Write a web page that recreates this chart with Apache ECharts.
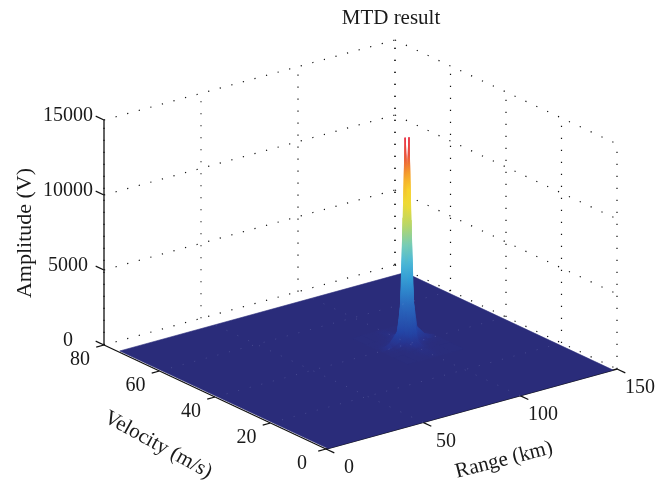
<!DOCTYPE html>
<html><head><meta charset="utf-8">
<style>html,body{margin:0;padding:0;background:#fff}#c{width:669px;height:487px}</style>
<script src="https://cdn.jsdelivr.net/npm/echarts@6/dist/echarts.min.js"></script>
</head><body><div id="c"></div>
<script>
// ---- chart values ----
const titleText = 'MTD result';
const rangeTicks = [0, 50, 100, 150];
const velocityTicks = [0, 20, 40, 60, 80];
const amplitudeTicks = [0, 5000, 10000, 15000];
// extent of the sampled surface
const surfaceRange = [1, 148];
const surfaceVelocity = [0, 75];
const floorAmplitude = 0;
// samples around the target
const peakRanges = [85, 90, 94, 96, 97, 98, 99, 100, 101, 102, 104, 108, 114];
const peakVelocities = [30, 35, 37, 38, 39, 40, 41, 42, 43, 45, 50];
const amp30 = [30, 30, 30, 30, 40, 50, 50, 50, 40, 30, 30, 30, 30];
const amp35 = [30, 30, 50, 80, 110, 170, 160, 170, 110, 80, 50, 30, 30];
const amp37 = [30, 50, 90, 200, 300, 500, 450, 500, 300, 200, 90, 50, 30];
const amp38 = [30, 70, 170, 380, 700, 1600, 1400, 1600, 700, 380, 170, 70, 30];
const amp39 = [50, 120, 380, 1100, 2400, 5000, 4500, 5000, 2400, 1100, 380, 120, 50];
const amp40 = [30, 350, 1000, 3000, 8500, 13800, 11500, 13750, 8200, 3000, 1000, 400, 30];
const amp41 = [45, 110, 360, 1050, 2300, 4800, 4400, 4900, 2300, 1050, 360, 110, 45];
const amp42 = [30, 65, 160, 360, 680, 1500, 1350, 1550, 680, 360, 160, 65, 30];
const amp43 = [30, 45, 85, 190, 290, 480, 430, 470, 290, 190, 85, 45, 30];
const amp45 = [30, 30, 50, 75, 105, 160, 150, 160, 105, 75, 50, 30, 30];
const amp50 = [30, 30, 30, 30, 40, 50, 45, 50, 40, 30, 30, 30, 30];
const peakAmplitudes = [amp30, amp35, amp37, amp38, amp39, amp40, amp41, amp42, amp43, amp45, amp50];

// ---- view (orthographic 3-D axes projected on the page) ----
const view = {origin: [326, 449], perKm: [291 / 150, -80 / 150], perMs: [-222 / 80, -104 / 80], perVolt: -225 / 15000};
const project = (r, v, z) => [
  view.origin[0] + r * view.perKm[0] + v * view.perMs[0],
  view.origin[1] + r * view.perKm[1] + v * view.perMs[1] + z * view.perVolt
];
const FONT = '"Liberation Serif", serif';
const rMax = 150, vMax = 80, zMax = 15000, colorMax = 13800;

// muted jet colour map as printed
const jetStops = [[0, [42, 44, 122]], [.02, [40, 50, 140]], [.07, [35, 68, 165]], [.2, [42, 105, 190]], [.33, [50, 160, 215]],
  [.45, [94, 200, 213]], [.55, [162, 212, 124]], [.65, [232, 220, 58]], [.74, [248, 214, 42]], [.83, [245, 156, 43]], [.92, [232, 72, 62]], [1, [232, 52, 70]]];
function jet(t) {
  t = Math.max(0, Math.min(1, t));
  for (let i = 1; i < jetStops.length; i++) {
    if (t <= jetStops[i][0]) {
      const a = jetStops[i - 1], b = jetStops[i], k = (t - a[0]) / (b[0] - a[0]);
      return 'rgb(' + a[1].map((c, n) => Math.round(c + (b[1][n] - c) * k)).join(',') + ')';
    }
  }
  return 'rgb(232,52,70)';
}

// ---- build records for the series ----
const wallGrid = [];
rangeTicks.forEach(r => { wallGrid.push([r, vMax, 0, r, vMax, zMax]); });
velocityTicks.forEach(v => { wallGrid.push([rMax, v, 0, rMax, v, zMax]); });
amplitudeTicks.forEach(z => { wallGrid.push([0, vMax, z, rMax, vMax, z]); wallGrid.push([rMax, vMax, z, rMax, 0, z]); });
const floorGrid = [];
rangeTicks.slice(1, -1).forEach(r => { floorGrid.push([r, 0, 0, r, vMax, 0]); });
velocityTicks.slice(1, -1).forEach(v => { floorGrid.push([0, v, 0, rMax, v, 0]); });
const axisLines = [[0, vMax, 0, 0, vMax, zMax], [0, 0, 0, 0, vMax, 0], [0, 0, 0, rMax, 0, 0]];
const tickMarks = [];
amplitudeTicks.forEach(z => tickMarks.push([0, vMax, z, 0, vMax + 3, z]));
velocityTicks.forEach(v => tickMarks.push([0, v, 0, -4, v, 0]));
rangeTicks.forEach(r => tickMarks.push([r, 0, 0, r, -3, 0]));

const cells = [];
cells.push([surfaceRange[0], surfaceVelocity[0], surfaceRange[1], surfaceVelocity[1], floorAmplitude, floorAmplitude, floorAmplitude, floorAmplitude]);
for (let j = peakVelocities.length - 2; j >= 0; j--) {
  for (let i = peakRanges.length - 2; i >= 0; i--) {
    cells.push([peakRanges[i], peakVelocities[j], peakRanges[i + 1], peakVelocities[j + 1],
      peakAmplitudes[j][i], peakAmplitudes[j][i + 1], peakAmplitudes[j + 1][i + 1], peakAmplitudes[j + 1][i]]);
  }
}

function segRender(style) {
  return function (params, api) {
    const a = api.coord(project(api.value(0), api.value(1), api.value(2)));
    const b = api.coord(project(api.value(3), api.value(4), api.value(5)));
    return {type: 'line', shape: {x1: a[0], y1: a[1], x2: b[0], y2: b[1]}, style: style, silent: true};
  };
}
function cellRender(params, api) {
  const r0 = api.value(0), v0 = api.value(1), r1 = api.value(2), v1 = api.value(3);
  const corners = [[r0, v0, api.value(4)], [r1, v0, api.value(5)], [r1, v1, api.value(6)], [r0, v1, api.value(7)]];
  const pts = corners.map(c => api.coord(project(c[0], c[1], c[2])));
  let lo = 0, hi = 0;
  corners.forEach((c, n) => { if (c[2] < corners[lo][2]) lo = n; if (c[2] > corners[hi][2]) hi = n; });
  const zLo = corners[lo][2], zHi = corners[hi][2];
  let paint;
  if (zHi - zLo < 1) {
    paint = jet(zLo / colorMax);
  } else {
    const stops = [];
    for (let k = 0; k <= 8; k++) stops.push({offset: k / 8, color: jet((zLo + (zHi - zLo) * k / 8) / colorMax)});
    paint = new echarts.graphic.LinearGradient(pts[lo][0], pts[lo][1], pts[hi][0], pts[hi][1], stops, true);
  }
  return {type: 'polygon', shape: {points: pts}, style: {fill: paint, stroke: paint, lineWidth: 0.6}, silent: true};
}
function tickLabelRender(toPoint, dx, dy) {
  return function (params, api) {
    const t = api.value(0), p = api.coord(toPoint(t));
    return {type: 'text', silent: true, style: {text: String(t), x: p[0] + dx, y: p[1] + dy, fill: '#1a1a1a', font: '20px ' + FONT, align: 'center', verticalAlign: 'middle'}};
  };
}
const seg = (name, data, style, z) => ({type: 'custom', name, data, z, clip: false, coordinateSystem: 'cartesian2d', renderItem: segRender(style), animation: false});
const labels = (name, ticks, fn, dx, dy) => ({type: 'custom', name, data: ticks.map(t => [t]), z: 9, clip: false, coordinateSystem: 'cartesian2d', renderItem: tickLabelRender(fn, dx, dy), animation: false});

const chart = echarts.init(document.getElementById('c'), null, {renderer: 'canvas'});
chart.setOption({
  animation: false,
  backgroundColor: '#fff',
  title: {text: titleText, left: 386, top: 3, textAlign: 'center', textStyle: {fontFamily: FONT, fontSize: 21, fontWeight: 'normal', color: '#1a1a1a'}},
  grid: {left: 0, top: 0, width: 669, height: 487},
  xAxis: {type: 'value', min: 0, max: 669, show: false},
  yAxis: {type: 'value', min: 0, max: 487, inverse: true, show: false},
  graphic: [
    {type: 'text', x: 25, y: 233, rotation: Math.PI / 2, silent: true, style: {text: 'Amplitude (V)', fill: '#1a1a1a', font: '22px ' + FONT, align: 'center', verticalAlign: 'middle'}},
    {type: 'text', x: 158, y: 445, rotation: -0.5, silent: true, style: {text: 'Velocity (m/s)', fill: '#1a1a1a', font: '21px ' + FONT, align: 'center', verticalAlign: 'middle'}},
    {type: 'text', x: 504, y: 460, rotation: 0.25, silent: true, style: {text: 'Range (km)', fill: '#1a1a1a', font: '21px ' + FONT, align: 'center', verticalAlign: 'middle'}}
  ],
  series: [
    seg('wall grid', wallGrid, {stroke: '#111', lineWidth: 1.2, lineDash: [1.2, 10.8]}, 1),
    seg('axes', axisLines, {stroke: '#111', lineWidth: 1.3}, 2),
    seg('ticks', tickMarks, {stroke: '#111', lineWidth: 1.2}, 2),
    {type: 'custom', name: 'surface', data: cells, z: 3, clip: false, coordinateSystem: 'cartesian2d', renderItem: cellRender, animation: false},
    seg('floor grid', floorGrid, {stroke: 'rgba(190,195,235,0.2)', lineWidth: 1, lineDash: [1, 11]}, 4),
    labels('amplitude ticks', amplitudeTicks, z => project(0, vMax, z), -36, -4),
    labels('velocity ticks', velocityTicks, v => project(0, v, 0), -24, 14.5),
    labels('range ticks', rangeTicks, r => project(r, 0, 0), 23, 19)
  ]
});
</script></body></html>
